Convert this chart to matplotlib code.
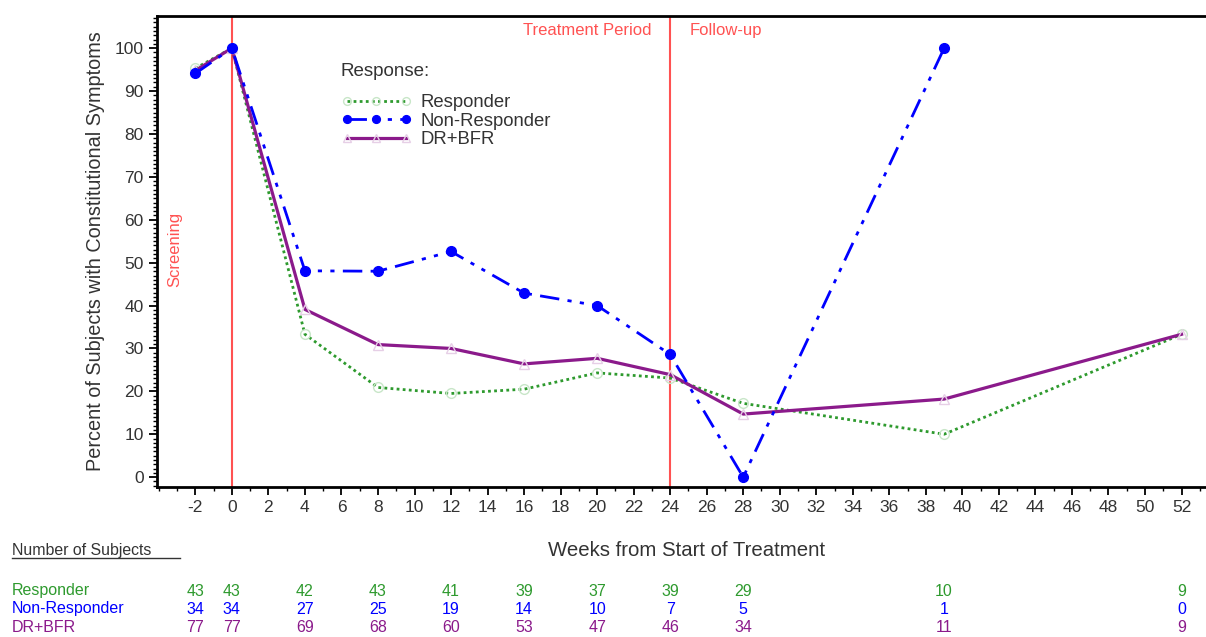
import numpy as np
import matplotlib.pyplot as plt
from matplotlib.ticker import MultipleLocator

plt.rcParams['font.family'] = ['Liberation Sans', 'DejaVu Sans']
plt.rcParams['axes.unicode_minus'] = False

# Datos
weeks = [-2, 0, 4, 8, 12, 16, 20, 24, 28, 39, 52]
resp_pct = [95.3, 100, 33.3, 20.9, 19.5, 20.5, 24.3, 23.1, 17.2, 10.0, 33.3]
nonresp_weeks = [-2, 0, 4, 8, 12, 16, 20, 24, 28, 39]
nonresp_pct = [94.1, 100, 48.1, 48.0, 52.6, 42.9, 40.0, 28.6, 0.0, 100]
dr_pct = [94.8, 100, 39.1, 30.9, 30.0, 26.4, 27.7, 23.9, 14.7, 18.2, 33.3]

n_resp = [43, 43, 42, 43, 41, 39, 37, 39, 29, 10, 9]
n_nonresp = [34, 34, 27, 25, 19, 14, 10, 7, 5, 1, 0]
n_dr = [77, 77, 69, 68, 60, 53, 47, 46, 34, 11, 9]

green = '#2e9a2e'
blue = '#0000ff'
purple = '#8b1a8b'
red = '#ff5252'
txt = '#333333'

fig = plt.figure(figsize=(12.06, 6.37), dpi=100)
ax = fig.add_axes([157 / 1206, 1 - 487 / 637, 1 - 157 / 1206 + 0.01, (487 - 16) / 637])

ax.axvline(0, color=red, lw=1.5, zorder=1)
ax.axvline(24, color=red, lw=1.5, zorder=1)

ax.plot(weeks, resp_pct, color=green, ls=(0, (1, 1.2)), lw=2,
        marker='o', ms=7, mfc='none', mec='#c8e6c8', mew=1, label='Responder', zorder=3)
ax.plot(nonresp_weeks, nonresp_pct, color=blue, ls=(0, (7, 3, 1.5, 3, 1.5, 3)), lw=2,
        marker='o', ms=7, mfc=blue, mec=blue, label='Non-Responder', zorder=4)
ax.plot(weeks, dr_pct, color=purple, lw=2.3,
        marker='^', ms=7, mfc='none', mec='#e6cfe6', mew=1, label='DR+BFR', zorder=3)

ax.set_xlim(-4.1, 54.0)
ax.set_ylim(-2.3, 107.5)
ax.set_xticks(np.arange(-2, 53, 2))
ax.xaxis.set_minor_locator(MultipleLocator(1))
ax.set_yticks(np.arange(0, 101, 10))
ax.yaxis.set_minor_locator(MultipleLocator(1))
ax.tick_params(axis='both', which='major', labelsize=12.5, colors='black', length=6, width=1.3,
               labelcolor=txt)
ax.tick_params(axis='both', which='minor', length=3, width=1)
ax.spines['right'].set_visible(False)
for s in ['left', 'bottom', 'top']:
    ax.spines[s].set_linewidth(2)

ax.set_ylabel('Percent of Subjects with Constitutional Symptoms', fontsize=14.3, color=txt, labelpad=7)

ax.text(-3.1, 53, 'Screening', rotation=90, color=red, fontsize=12, ha='center', va='center')
ax.text(23.0, 104.2, 'Treatment Period', color=red, fontsize=12, ha='right', va='center')
ax.text(25.05, 104.2, 'Follow-up', color=red, fontsize=12, ha='left', va='center')

fig.text(340 / 1206, 1 - 71 / 637, 'Response:', fontsize=13.5, color=txt, ha='left', va='center')
leg = ax.legend(loc='upper left', bbox_to_anchor=(0.165, 0.853), frameon=False, fontsize=13.3,
                handlelength=3.8, labelspacing=0.08, borderpad=0, handletextpad=0.5,
                numpoints=3, markerscale=0.8)
for t in leg.get_texts():
    t.set_color(txt)

# Tabla de sujetos
fig.text(687 / 1206, 1 - 551 / 637, 'Weeks from Start of Treatment',
         fontsize=14.7, ha='center', va='center', color=txt)
fig.text(12 / 1206, 1 - 550 / 637, 'Number of Subjects', fontsize=11.4,
         ha='left', va='center', color=txt)
fig.add_artist(plt.Line2D([12 / 1206, 180 / 1206], [1 - 558 / 637, 1 - 558 / 637],
                          color=txt, lw=1))

rows = [('Responder', n_resp, green, 591), ('Non-Responder', n_nonresp, blue, 609),
        ('DR+BFR', n_dr, purple, 627)]
for name, counts, col, ypix in rows:
    yf = 1 - ypix / 637
    fig.text(12 / 1206, yf, name, color=col, fontsize=11.5, ha='left', va='center')
    for w, c in zip(weeks, counts):
        xd = ax.transData.transform((w, 0))[0]
        xf = fig.transFigure.inverted().transform((xd, 0))[0]
        fig.text(xf, yf, str(c), color=col, fontsize=11.5, ha='center', va='center')

plt.savefig('out.png', dpi=100)
